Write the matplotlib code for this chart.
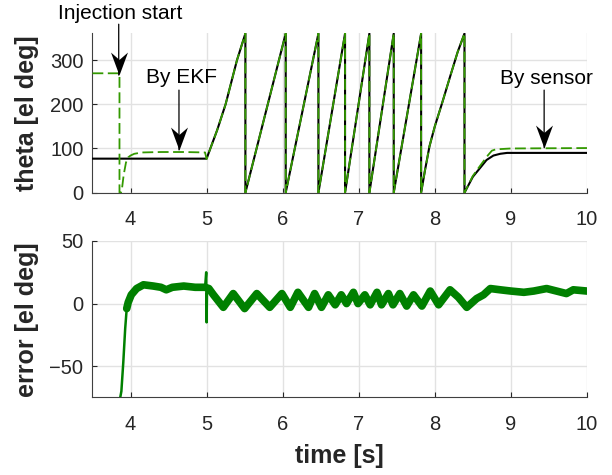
import matplotlib
matplotlib.use("Agg")
import matplotlib.pyplot as plt
from matplotlib.path import Path
import numpy as np

plt.rcParams['font.family'] = ['Liberation Sans', 'DejaVu Sans']

# ---------------- data ----------------
# shared sawtooth part (both sensor and EKF follow it)
saw_t = [5.14, 5.25, 5.40, 5.51, 5.51, 6.04, 6.04, 6.47, 6.47, 6.82, 6.82,
         7.14, 7.14, 7.46, 7.46, 7.82, 7.82, 7.87, 7.93, 8.0, 8.1, 8.2,
         8.3, 8.39, 8.39]
saw_v = [142, 200, 300, 360, 0, 360, 0, 360, 0, 360, 0,
         360, 0, 360, 0, 360, 0, 50, 105, 150, 205, 262,
         318, 360, 0]

sensor_pre_t = [3.5, 5.0]
sensor_pre_v = [77, 77]
sensor_post_t = [8.5, 8.6, 8.68, 8.77, 8.86, 8.95, 10.0]
sensor_post_v = [36, 57, 74, 84, 88, 90, 90]

ekf_pre_t = [3.5, 3.855, 3.855, 3.875, 3.89, 3.91, 3.94, 3.97, 4.0, 4.05,
             4.15, 4.4, 4.7, 4.98, 5.0, 5.02]
ekf_pre_v = [270, 270, 0, 0, 12, 40, 68, 80, 84, 88,
             91, 92, 92, 91, 76, 86]
ekf_post_t = [8.5, 8.6, 8.7, 8.75, 8.8, 9.0, 10.0]
ekf_post_v = [38, 62, 85, 95, 98, 100, 101]

err_t = [3.85, 3.88, 3.905, 3.93, 3.95, 3.97, 4.01, 4.08, 4.17, 4.3,
         4.4, 4.47, 4.55, 4.7, 4.85, 4.98, 4.995, 5.0, 5.005, 5.03,
         5.09, 5.22, 5.35, 5.5, 5.66, 5.83, 5.99, 6.1, 6.2, 6.34,
         6.42, 6.51, 6.6, 6.69, 6.77, 6.84, 6.93, 6.99, 7.08, 7.15,
         7.24, 7.30, 7.39, 7.45, 7.54, 7.63, 7.72, 7.83, 7.94, 8.05,
         8.20, 8.31, 8.42, 8.55, 8.64, 8.73, 8.86, 9.0, 9.17, 9.3,
         9.47, 9.6, 9.73, 9.82, 10.0]
err_v = [-80, -70, -47, -20, -4, 1, 7, 12, 15, 14,
         13, 11, 13, 14, 13, 13, 25, -15, 8, 12,
         7, -3, 8, -4, 8, -3, 8, -3, 9, -3,
         8, -3, 7, -1, 7, 0, 9, 0, 7, -1,
         9, -1, 8, -1, 8, -2, 7, -2, 10, -1,
         11, 5, -3, 4, 7, 12, 11, 10, 9, 10,
         12, 10, 8, 11, 10]

x_ticks = [4, 5, 6, 7, 8, 9, 10]
theta_ticks = [0, 100, 200, 300]
err_ticks = [-50, 0, 50]

sensor_t = sensor_pre_t + saw_t + sensor_post_t
sensor_v = sensor_pre_v + saw_v + sensor_post_v
ekf_t = ekf_pre_t + saw_t + ekf_post_t
ekf_v = ekf_pre_v + saw_v + ekf_post_v

# ---------------- style ----------------
TXT = '#262626'
GREEN = '#339900'
DGREEN = '#008000'

fig = plt.figure(figsize=(6.12, 4.75), dpi=100)
ax1 = fig.add_axes([0.1511, 0.5943, 0.808, 0.3352])
ax2 = fig.add_axes([0.1511, 0.1632, 0.808, 0.3295])

for ax in (ax1, ax2):
    ax.set_xlim(3.5, 10)
    ax.set_xticks(x_ticks)
    ax.grid(True, color='#e2e2e2', lw=1.0)
    ax.set_axisbelow(True)
    for s in ('top', 'right'):
        ax.spines[s].set_visible(False)
    for s in ('left', 'bottom'):
        ax.spines[s].set_color('#404040')
        ax.spines[s].set_linewidth(0.8)
    ax.tick_params(direction='in', length=3.5, width=0.8, colors=TXT,
                   labelsize=14.5)
    ax.tick_params(axis='x', pad=12.5)
    ax.tick_params(axis='y', pad=6.5)

# top: theta
ax1.plot(sensor_t, sensor_v, color='black', lw=1.5, zorder=3)
ax1.plot(ekf_t, ekf_v, color=GREEN, lw=1.3, dashes=(6, 2.5), zorder=4)
ax1.set_ylim(0, 360)
ax1.set_yticks(theta_ticks)
ax1.set_ylabel('theta [el deg]', fontsize=18, fontweight='bold', color=TXT)
ax1.yaxis.set_label_coords(-0.108, 0.5)

# bottom: error
err_t_arr = np.array(err_t)
err_v_arr = np.array(err_v)
ax2.plot(err_t_arr, err_v_arr, color=DGREEN, lw=1.8, zorder=3)
# noisy band drawn as a thick line (the thin spike at t=5 is left out of it)
m = (err_t_arr >= 3.95) & ((err_t_arr < 4.99) | (err_t_arr > 5.01))
ax2.plot(err_t_arr[m], err_v_arr[m], color=DGREEN, lw=5.5,
         solid_joinstyle='round', solid_capstyle='round', zorder=3)
ax2.set_ylim(-75, 50)
ax2.set_yticks(err_ticks)
ax2.set_ylabel('error [el deg]', fontsize=18, fontweight='bold', color=TXT)
ax2.yaxis.set_label_coords(-0.108, 0.5)
ax2.set_xlabel('time [s]', fontsize=18, fontweight='bold', color=TXT)
ax2.xaxis.set_label_coords(0.5, -0.30)

# ---------------- annotations ----------------
head = Path([(0, 0), (-0.37, 1.0), (0, 0.68), (0.37, 1.0), (0, 0)],
            [Path.MOVETO, Path.LINETO, Path.LINETO, Path.LINETO, Path.CLOSEPOLY])

annots = [
    # text, text x, text y, arrow x, shaft start y, tip y
    ('Injection start', 3.86, 406, 3.845, 381, 266),
    ('By EKF', 4.676, 261, 4.637, 232, 97),
    ('By sensor', 9.47, 259, 9.437, 232, 102),
]
for label, tx, ty, ax_x, y0, y1 in annots:
    ax1.text(tx, ty, label, fontsize=15, color='black', ha='center',
             va='center', clip_on=False, zorder=6)
    ax1.annotate('', xy=(ax_x, y1), xytext=(ax_x, y0),
                 arrowprops=dict(arrowstyle='-', lw=0.9, color='black',
                                 shrinkA=0, shrinkB=0),
                 annotation_clip=False, zorder=6)
    ax1.plot([ax_x], [y1], marker=head, markersize=33, color='black',
             markeredgewidth=0, clip_on=False, zorder=7)

fig.savefig('out.png', dpi=100)
